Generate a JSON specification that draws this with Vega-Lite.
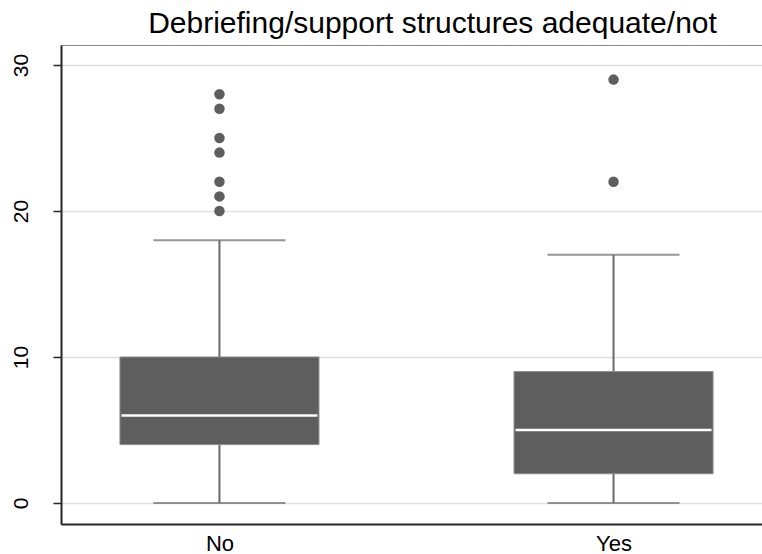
{
  "$schema": "https://vega.github.io/schema/vega-lite/v6.json",
  "width": 701,
  "height": 479,
  "autosize": {"type": "none"},
  "padding": {"left": 61, "top": 45, "right": 0, "bottom": 30},
  "background": "white",
  "config": {
    "font": "Liberation Sans",
    "view": {"stroke": "#8a8a8a", "strokeWidth": 1}
  },
  "title": {
    "text": "Debriefing/support structures adequate/not",
    "fontSize": 30,
    "fontWeight": "normal",
    "font": "Liberation Sans",
    "color": "#000000",
    "anchor": "middle",
    "baseline": "alphabetic",
    "offset": 9,
    "dy": 27,
    "dx": 21
  },
  "datasets": {
    "boxes": [
      {"group": "No", "lower": 0, "q1": 4, "median": 6, "q3": 10, "upper": 18},
      {"group": "Yes", "lower": 0, "q1": 2, "median": 5, "q3": 9, "upper": 17}
    ],
    "outliers": [
      {"group": "No", "value": 20},
      {"group": "No", "value": 21},
      {"group": "No", "value": 22},
      {"group": "No", "value": 24},
      {"group": "No", "value": 25},
      {"group": "No", "value": 27},
      {"group": "No", "value": 28},
      {"group": "Yes", "value": 22},
      {"group": "Yes", "value": 29}
    ]
  },
  "encoding": {
    "x": {
      "field": "group",
      "type": "nominal",
      "sort": ["No", "Yes"],
      "scale": {"type": "point", "range": [0, 711], "padding": 0.4021},
      "axis": {
        "title": null,
        "labelAngle": 0,
        "ticks": false,
        "labelFontSize": 22,
        "labelColor": "#000000",
        "labelPadding": 9,
        "domainColor": "#262626",
        "domainWidth": 2,
        "grid": false
      }
    }
  },
  "layer": [
    {
      "data": {"name": "boxes"},
      "mark": {"type": "rule", "color": "#6a6a6a", "strokeWidth": 2},
      "encoding": {
        "y": {
          "field": "lower",
          "type": "quantitative",
          "scale": {"domain": [-1.44, 31.37], "nice": false, "zero": false},
          "axis": {
            "title": null,
            "values": [0, 10, 20, 30],
            "grid": true,
            "gridColor": "#e0e0e0",
            "gridWidth": 1.5,
            "tickSize": 8,
            "tickColor": "#262626",
            "tickWidth": 1.5,
            "domainColor": "#262626",
            "domainWidth": 2,
            "labelAngle": 270,
            "labelFontSize": 21,
            "labelColor": "#000000",
            "labelPadding": 22
          }
        },
        "y2": {"field": "upper"}
      }
    },
    {
      "data": {"name": "boxes"},
      "mark": {"type": "tick", "color": "#6a6a6a", "orient": "horizontal", "size": 132, "thickness": 2},
      "encoding": {"y": {"field": "lower", "type": "quantitative"}}
    },
    {
      "data": {"name": "boxes"},
      "mark": {"type": "tick", "color": "#6a6a6a", "orient": "horizontal", "size": 132, "thickness": 2},
      "encoding": {"y": {"field": "upper", "type": "quantitative"}}
    },
    {
      "data": {"name": "boxes"},
      "mark": {"type": "bar", "orient": "vertical", "size": 199, "color": "#5e5e5e", "stroke": "#8c8c8c", "strokeWidth": 1},
      "encoding": {
        "y": {"field": "q1", "type": "quantitative"},
        "y2": {"field": "q3"}
      }
    },
    {
      "data": {"name": "boxes"},
      "mark": {"type": "tick", "color": "#ffffff", "orient": "horizontal", "size": 196, "thickness": 2.5, "opacity": 1},
      "encoding": {"y": {"field": "median", "type": "quantitative"}}
    },
    {
      "data": {"name": "outliers"},
      "mark": {"type": "circle", "color": "#5e5e5e", "size": 110, "opacity": 1},
      "encoding": {"y": {"field": "value", "type": "quantitative"}}
    }
  ]
}
